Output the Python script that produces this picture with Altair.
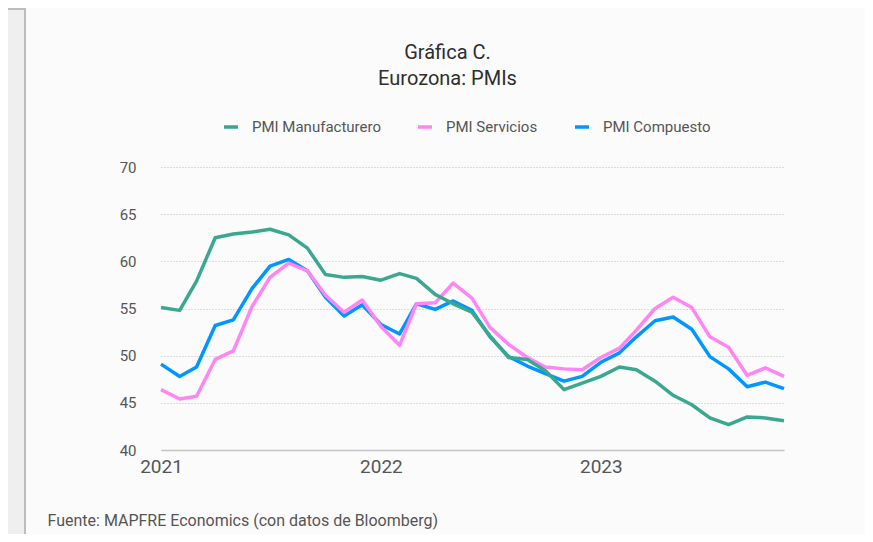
import altair as alt
import pandas as pd

months = [d.strftime("%Y-%m-01T00:00:00") for d in pd.date_range("2021-01-01", "2023-11-01", freq="MS")]

series_names = ["PMI Manufacturero", "PMI Servicios", "PMI Compuesto"]
series_colors = ["#3aa78f", "#ff85f4", "#0096ff"]

manufacturero = [55.1, 54.8, 57.9, 62.5, 62.9, 63.1, 63.4, 62.8, 61.4, 58.6, 58.3, 58.4,
                 58.0, 58.7, 58.2, 56.5, 55.5, 54.6, 52.1, 49.8, 49.6, 48.4, 46.4, 47.1,
                 47.8, 48.8, 48.5, 47.3, 45.8, 44.8, 43.4, 42.7, 43.5, 43.4, 43.1]
servicios = [46.4, 45.4, 45.7, 49.6, 50.5, 55.2, 58.3, 59.8, 59.0, 56.4, 54.6, 55.9,
             53.1, 51.1, 55.5, 55.6, 57.7, 56.1, 53.0, 51.2, 49.8, 48.8, 48.6, 48.5,
             49.8, 50.8, 52.7, 55.0, 56.2, 55.1, 52.0, 50.9, 47.9, 48.7, 47.8]
compuesto = [49.1, 47.8, 48.8, 53.2, 53.8, 57.1, 59.5, 60.2, 59.0, 56.2, 54.2, 55.4,
             53.3, 52.3, 55.5, 54.9, 55.8, 54.8, 52.0, 49.9, 48.9, 48.1, 47.3, 47.8,
             49.3, 50.3, 52.0, 53.7, 54.1, 52.8, 49.9, 48.6, 46.7, 47.2, 46.5]

y_ticks = [40, 45, 50, 55, 60, 65, 70]
x_tick_years = [2021, 2022, 2023]

title_lines = ["Gráfica C.", "Eurozona: PMIs"]
footer = "Fuente: MAPFRE Economics (con datos de Bloomberg)"

# draw order: Compuesto first, then Servicios, then Manufacturero on top
rows = []
for name, vals in [("PMI Compuesto", compuesto), ("PMI Servicios", servicios), ("PMI Manufacturero", manufacturero)]:
    for m, v in zip(months, vals):
        rows.append({"fecha": m, "serie": name, "valor": v})
df = pd.DataFrame(rows)

FONT = "Roboto"

lines = alt.Chart(df).mark_line(strokeWidth=3.5, strokeJoin="round").encode(
    x=alt.X("fecha:T",
            scale=alt.Scale(nice=False, padding=0),
            axis=alt.Axis(values=[alt.DateTime(year=y, month=1, date=1) for y in x_tick_years],
                          format="%Y", grid=False, ticks=False, domain=True,
                          domainColor="#c4c4c4", domainWidth=1.5, labelFlush=False,
                          labelFontSize=19, labelColor="#555555", labelPadding=7, labelFont=FONT,
                          title=footer, titleFont=FONT, titleFontSize=16, titleFontWeight="normal",
                          titleColor="#555555", titleAlign="left", titleBaseline="alphabetic",
                          titleX=-114, titleY=75)),
    y=alt.Y("valor:Q",
            scale=alt.Scale(domain=[40, 70], nice=False, zero=False),
            axis=alt.Axis(values=y_ticks, grid=True, gridDash=[1, 2], gridColor="#bdbdbd",
                          gridWidth=1, domain=False, ticks=False, labelPadding=25,
                          labelFontSize=15, labelColor="#555555", labelFont=FONT, title=None)),
    color=alt.Color("serie:N",
                    scale=alt.Scale(domain=series_names, range=series_colors),
                    title=None,
                    legend=alt.Legend(orient="none", legendX=61, legendY=-49, direction="horizontal",
                                      symbolType="stroke", symbolSize=196, symbolStrokeWidth=3.5,
                                      labelFontSize=15, labelColor="#555555", labelFont=FONT,
                                      labelOffset=12, columnPadding=30)),
)

left_band = alt.Chart(pd.DataFrame({"k": [0]})).mark_rect(
    fill="#efefef", stroke="#bdbdbd", strokeWidth=2).encode(
    x=alt.value(-170), x2=alt.value(-136), y=alt.value(-158), y2=alt.value(450))

chart = alt.layer(left_band, lines).properties(
    width=623, height=283,
    autosize=alt.AutoSizeParams(type="none"),
    padding={"left": 153, "top": 159, "right": 81, "bottom": 84},
    background="#fbfbfb",
    title=alt.TitleParams(text=title_lines, anchor="middle", font=FONT, fontSize=20,
                          fontWeight="normal", color="#2e2e2e", lineHeight=26, offset=0,
                          dx=-25, dy=81),
).configure_view(strokeWidth=0)

chart.save("out.html", embed_options={"renderer": "svg", "actions": False})
